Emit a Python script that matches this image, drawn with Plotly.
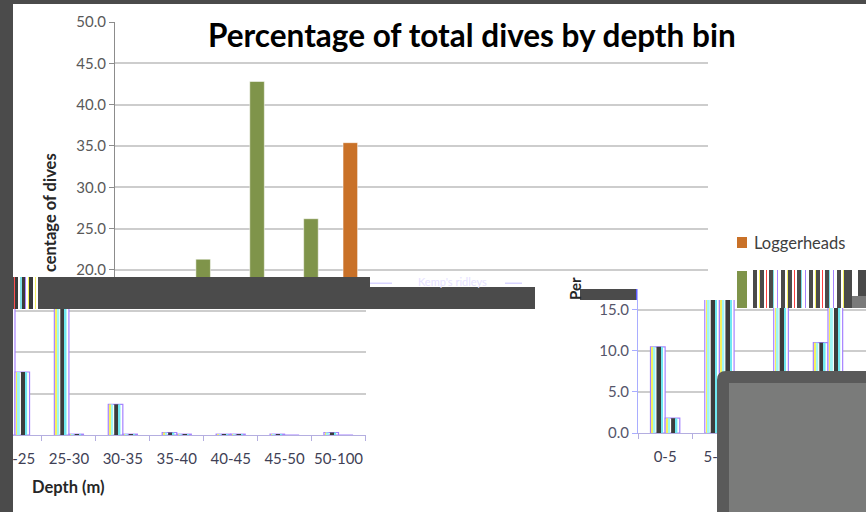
import plotly.graph_objects as go

# Dive-depth distribution (% of all dives per 5 m bin)
depth_bins = ["0-5", "5-10", "10-15", "15-20", "20-25", "25-30",
              "30-35", "35-40", "40-45", "45-50", "50-100"]
loggerheads = [10.5, 16.5, 6.0, 11.0, 35.4, 16.0, 3.7, 0.3, 0.1, 0.1, 0.3]
kemps_ridleys = [1.8, 21.3, 42.8, 26.2, 7.6, 0.1, 0.1, 0.1, 0.1, 0.0, 0.0]

y_ticks_top = [20, 25, 30, 35, 40, 45, 50]
y_ticks_low = [0, 5, 10, 15]

W, H = 866, 512
FONT = "Lato"
BG_DARK = "#4b4b4b"
ORANGE = "#c97128"
GREEN = "#7f944a"
GRID = "#cdcdcd"


def px(x):
    return x / W


def py(y):
    return 1 - y / H


fig = go.Figure()

BAR_W = 0.27


def solid_bars(xa, ya, values, color, offset, name):
    fig.add_trace(go.Bar(
        x=depth_bins, y=values, xaxis=xa, yaxis=ya, name=name,
        width=BAR_W, offset=offset, marker_color=color,
        marker_line=dict(color="rgba(255,255,255,0.5)", width=1),
        showlegend=False, hoverinfo="x+y"))


def ghost_bars(xa, ya, values, offset):
    # washed-out copy of the series: white bar with coloured fringes
    fig.add_trace(go.Bar(
        x=depth_bins, y=values, xaxis=xa, yaxis=ya, width=BAR_W, offset=offset,
        marker_color="#ffffff", marker_line=dict(color="#a682ff", width=1.2),
        showlegend=False, hoverinfo="skip"))
    stripes = [(0.025, 0.03, "#f5f060"), (0.055, 0.035, "#9ff5f5"),
               (0.11, 0.085, "#3c3c3c"), (0.195, 0.03, "#6fe8f0")]
    for start, width, color in stripes:
        fig.add_trace(go.Bar(
            x=depth_bins, y=values, xaxis=xa, yaxis=ya, width=width,
            offset=offset + start, marker_color=color, marker_line_width=0,
            showlegend=False, hoverinfo="skip"))


# upper panel
solid_bars("x", "y", loggerheads, ORANGE, -BAR_W, "Loggerheads")
solid_bars("x", "y", kemps_ridleys, GREEN, 0, "Kemp's ridleys")
# lower-left panel
ghost_bars("x2", "y2", loggerheads, -BAR_W)
ghost_bars("x2", "y2", kemps_ridleys, 0)
# lower-right panel
ghost_bars("x3", "y3", loggerheads, -BAR_W)
ghost_bars("x3", "y3", kemps_ridleys, 0)

tick_font = dict(family=FONT, size=15, color="#595959")
cat_font = dict(family=FONT, size=15, color="#3f3f55")

fig.update_layout(
    width=W, height=H,
    margin=dict(l=0, r=0, t=0, b=0, pad=0, autoexpand=False),
    paper_bgcolor=BG_DARK, plot_bgcolor="rgba(0,0,0,0)",
    barmode="overlay", showlegend=False,
    xaxis=dict(domain=[px(115), px(708)], range=[-0.5, 10.5],
               showticklabels=False, showgrid=False, zeroline=False,
               showline=False, ticks="", anchor="y", automargin=False,
               fixedrange=True),
    yaxis=dict(domain=[py(277), py(22)], range=[19.15, 50],
               tickvals=y_ticks_top, tickformat=".1f", tickfont=tick_font,
               showgrid=True, gridcolor=GRID, gridwidth=1.5,
               showline=True, linecolor="#8c8c8c", linewidth=1,
               ticks="outside", ticklen=5, tickcolor="#8c8c8c",
               zeroline=False, anchor="x", automargin=False, fixedrange=True),
    xaxis2=dict(domain=[px(13), px(366)], range=[3.963, 10.51], tickangle=0,
                tickfont=cat_font, showgrid=False, zeroline=False,
                showline=True, linecolor="#b4aee0", linewidth=1.2,
                ticks="outside", tickson="boundaries", ticklen=5,
                tickcolor="#b4aee0", ticklabelstandoff=10, anchor="y2",
                automargin=False, fixedrange=True),
    yaxis2=dict(domain=[py(435), py(309)], range=[0, 15.2],
                tickvals=y_ticks_low, showticklabels=False, ticks="",
                showgrid=True, gridcolor=GRID, gridwidth=1.5, zeroline=False,
                showline=False, anchor="x2", automargin=False,
                fixedrange=True),
    xaxis3=dict(domain=[px(638), px(866)], range=[-0.5, 3.7], tickangle=0,
                tickfont=cat_font, showgrid=False, zeroline=False,
                showline=True, linecolor="#b4aee0", linewidth=1.2,
                ticks="outside", tickson="boundaries", ticklen=5,
                tickcolor="#b4aee0", ticklabelstandoff=10, anchor="y3",
                automargin=False, fixedrange=True),
    yaxis3=dict(domain=[py(433), py(300)], range=[0, 16.2],
                tickvals=y_ticks_low, tickformat=".1f",
                tickfont=dict(family=FONT, size=15, color="#55556a"),
                showgrid=True, gridcolor=GRID, gridwidth=1.5, zeroline=False,
                showline=True, linecolor="#a9adff", linewidth=1,
                ticks="outside", ticklen=5, tickcolor="#a9adff",
                anchor="x3", automargin=False, fixedrange=True),
)

shapes = []


def rect(x0, y0, x1, y1, color, layer="above"):
    shapes.append(dict(type="rect", xref="paper", yref="paper",
                       x0=px(x0), x1=px(x1), y0=py(y1), y1=py(y0),
                       fillcolor=color, line_width=0, layer=layer))


# white slide panel
rect(13, 4, W, H, "#ffffff", layer="below")

# torn band across the middle of the slide
rect(13, 277, 370, 309, BG_DARK)
rect(370, 287, 535, 309, BG_DARK)
rect(370, 282.5, 392, 284, "#d8d4ff")
rect(505, 282.5, 522, 284, "#d8d4ff")
band_stripes = [(1, "#ff5050"), (3, "#3a3a3a"), (2, "#ffffff"), (2, "#7fe0e8"),
                (3, "#3a3a3a"), (1, "#a682ff"), (2, "#ffffff"), (1, "#f5f060"),
                (4, "#3a3a3a"), (2, "#ffffff"), (1, "#f5f060"), (2, "#ffffff")]
x = 14
for w, c in band_stripes:
    rect(x, 277, x + w, 309, c)
    x += w

# block next to the right-hand axis title
rect(580, 289, 637, 300, BG_DARK)
rect(636, 289, 637.5, 300, "#5c5cff")

# legend swatches
rect(737, 237, 747, 248, ORANGE)
rect(737, 271, 747, 308, GREEN)
legend_stripes = [(3, "#ffffff"), (4, "#4a4a4a"), (2, "#ffffff"), (1, "#f5f060"),
                  (4, "#4a4a4a"), (2, "#ffffff"), (1, "#ff4040"), (2, "#ffffff"),
                  (4, "#4a4a4a"), (1, "#7fe0e8"), (3, "#ffffff"), (1, "#a682ff")]
x = 750
while x < 848:
    for w, c in legend_stripes:
        if x >= 848:
            break
        rect(x, 270, min(x + w, 848), 308, c)
        x += w
rect(848, 270, 852, 308, "#4a4a4a")
rect(852, 270, 858, 296, "#ffffff")
rect(852, 296, 866, 308, "#7a7a7a")
rect(858, 270, 866, 296, "#4a4a4a")

# dark margins of the slide window
rect(0, 0, 13, H, BG_DARK)
rect(0, 0, W, 4, BG_DARK)

# overlapping window in the lower-right corner
r = 9
shapes.append(dict(
    type="path", xref="paper", yref="paper", layer="above",
    path=(f"M {px(717)},{py(H)} L {px(717)},{py(371 + r)} "
          f"Q {px(717)},{py(371)} {px(717 + r)},{py(371)} "
          f"L {px(W)},{py(371)} L {px(W)},{py(H)} Z"),
    fillcolor="#5a5a5a", line_width=0))
rect(729, 383, W, H, "#7a7b7a")

fig.update_layout(shapes=shapes)

annotations = [
    dict(text="<b>Percentage of total dives by depth bin</b>",
         x=px(472), y=py(35), font=dict(family=FONT, size=31.5, color="#000000")),
    dict(text="<b>centage of dives</b>", textangle=-90,
         x=px(50), y=py(213), font=dict(family=FONT, size=16.5, color="#262626")),
    dict(text="<b>Per</b>", textangle=-90,
         x=px(575), y=py(289), font=dict(family=FONT, size=15, color="#262626")),
    dict(text="<b>Depth (m)</b>",
         x=px(68), y=py(487), font=dict(family=FONT, size=16.5, color="#262626")),
    dict(text="Loggerheads", xanchor="left",
         x=px(752), y=py(243), font=dict(family=FONT, size=16.5, color="#404040")),
    dict(text="Kemp's ridleys",
         x=px(452), y=py(281), font=dict(family=FONT, size=11, color="#e6e2ff")),
]
for a in annotations:
    a.setdefault("xref", "paper")
    a.setdefault("yref", "paper")
    a.setdefault("showarrow", False)
    a.setdefault("xanchor", "center")
    a.setdefault("yanchor", "middle")
fig.update_layout(annotations=annotations)

fig.write_html("out.html")
